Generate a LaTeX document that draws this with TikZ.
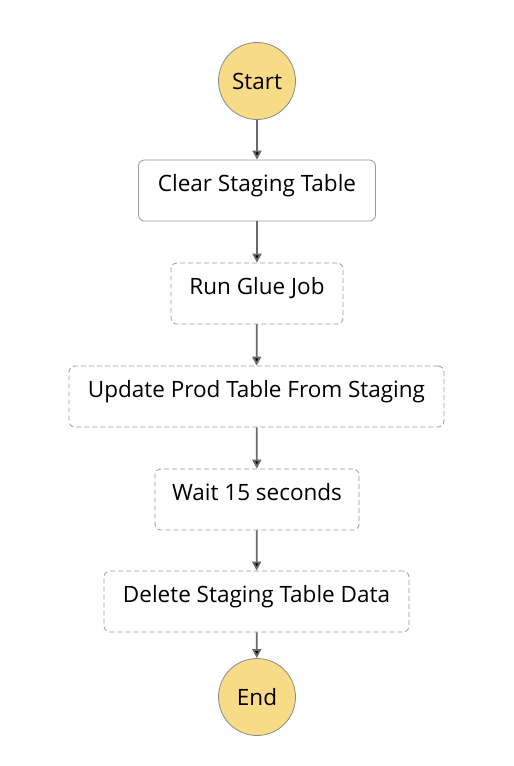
\documentclass[tikz,border=0pt]{standalone}
\usepackage{fontspec}
\setmainfont{Open Sans}
\usepackage{xcolor}
\usepackage{tikz}
\usetikzlibrary{arrows.meta}
\definecolor{endfill}{HTML}{F8DB87}
\definecolor{endline}{HTML}{8A8A8A}
\definecolor{boxline}{HTML}{9A9A9A}
\definecolor{flowline}{HTML}{6A6A6A}

\begin{document}
\begin{tikzpicture}[x=1pt, y=-1pt,
    txt/.style={font=\fontsize{22.5}{26}\selectfont},
    term/.style={txt, circle, draw=endline, line width=0.8pt, fill=endfill, minimum size=77pt, inner sep=0pt},
    state/.style={txt, draw=boxline, line width=0.8pt, rounded corners=6pt, fill=white,
                  inner xsep=0pt, inner ysep=0pt, text height=31pt, text depth=30pt},
    task/.style={state, dash pattern=on 5pt off 3pt},
    flow/.style={draw=flowline, line width=1.8pt, -{Triangle[length=9pt, width=9pt]}}]
    \useasboundingbox (0,0) rectangle (514,766);

    \node[term] (start) at (257,81) {Start};
    \node[state, minimum width=237pt] (clear) at (257,190.5) {Clear Staging Table};
    \node[task, minimum width=172pt] (glue) at (257,293.5) {Run Glue Job};
    \node[task, minimum width=375pt] (update) at (256.5,396.5) {Update Prod Table From Staging};
    \node[task, minimum width=204pt] (wait) at (257,499.5) {Wait 15 seconds};
    \node[task, minimum width=305pt] (delete) at (256.5,601.5) {Delete Staging Table Data};
    \node[term] (end) at (257,697) {End};

    \draw[flow] (start) edge (clear)
                (clear) edge (glue)
                (glue) edge (update)
                (update) edge (wait)
                (wait) edge (delete)
                (delete) edge (end);
\end{tikzpicture}
\end{document}
